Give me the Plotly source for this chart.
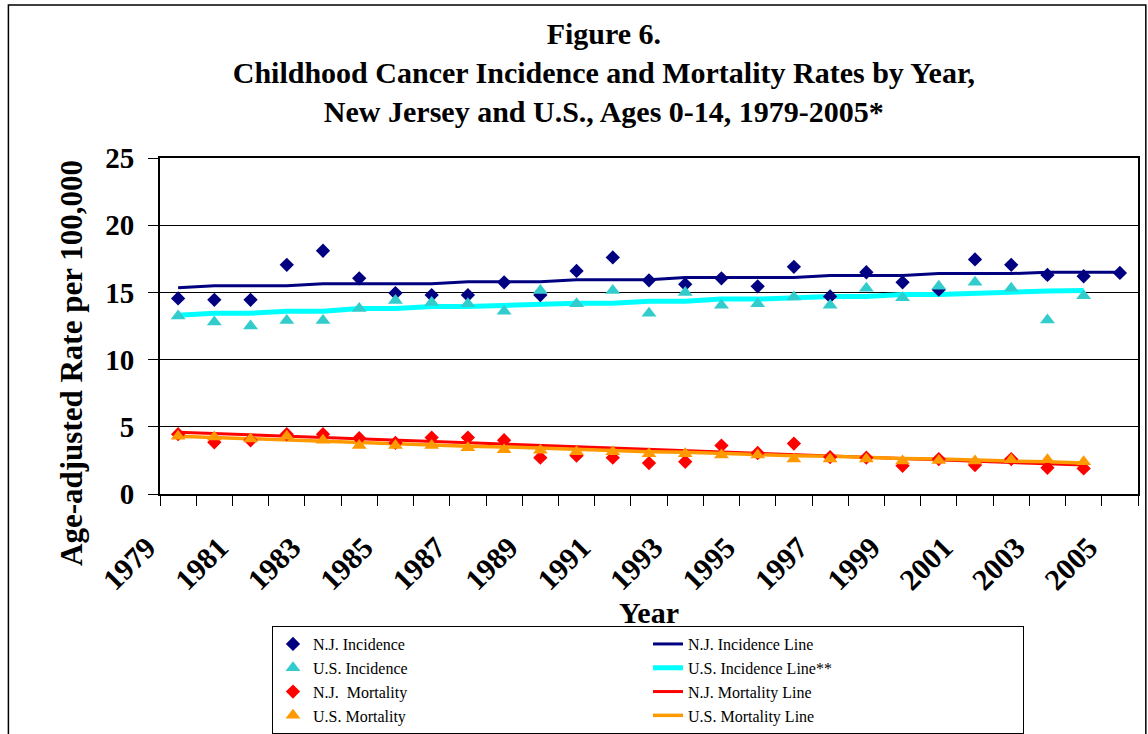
import plotly.graph_objects as go

# years
years_nj = list(range(1979, 2006))
years_us = list(range(1979, 2005))

# N.J. incidence points (1979-2005)
nj_inc = [14.55, 14.45, 14.45, 17.05, 18.1, 16.05, 14.95, 14.8, 14.8, 15.75, 14.8, 16.6, 17.6,
          15.9, 15.6, 16.05, 15.45, 16.9, 14.7, 16.5, 15.75, 15.2, 17.45, 17.05, 16.3, 16.2, 16.45]
# N.J. incidence trend line
nj_inc_line = [15.35, 15.5, 15.5, 15.5, 15.65, 15.65, 15.65, 15.65, 15.8, 15.8, 15.8, 15.95, 15.95,
               15.95, 16.1, 16.1, 16.1, 16.1, 16.25, 16.25, 16.25, 16.4, 16.4, 16.4, 16.5, 16.5, 16.5]

# U.S. incidence points (1979-2004)
us_inc = [13.25, 12.8, 12.5, 12.9, 12.9, 13.8, 14.4, 14.25, 14.15, 13.6, 15.15, 14.15, 15.15,
          13.45, 15.0, 14.05, 14.15, 14.65, 14.05, 15.3, 14.6, 15.45, 15.75, 15.3, 12.95, 14.75]
us_inc_line = [13.3, 13.45, 13.45, 13.6, 13.6, 13.8, 13.8, 13.95, 13.95, 14.05, 14.1, 14.2, 14.2,
               14.35, 14.35, 14.5, 14.5, 14.6, 14.7, 14.7, 14.85, 14.85, 14.95, 15.05, 15.1, 15.15]

# N.J. mortality (1979-2004)
nj_mort = [4.45, 3.85, 4.0, 4.45, 4.45, 4.15, 3.8, 4.2, 4.2, 4.0, 2.7, 2.85, 2.7,
           2.3, 2.4, 3.6, 3.05, 3.75, 2.75, 2.7, 2.1, 2.6, 2.15, 2.6, 1.95, 1.9]
nj_mort_line = [4.6, 4.5, 4.4, 4.3, 4.2, 4.1, 4.0, 3.9, 3.8, 3.7, 3.6, 3.5, 3.4,
                3.3, 3.2, 3.1, 3.0, 2.9, 2.8, 2.7, 2.6, 2.55, 2.45, 2.35, 2.25, 2.15]

# U.S. mortality (1979-2004)
us_mort = [4.3, 4.25, 4.1, 4.3, 4.0, 3.6, 3.6, 3.6, 3.45, 3.3, 3.25, 3.15, 3.15,
           3.0, 3.0, 2.9, 2.9, 2.6, 2.6, 2.6, 2.45, 2.5, 2.45, 2.55, 2.55, 2.4]
us_mort_line = [4.3, 4.2, 4.1, 4.05, 3.95, 3.85, 3.75, 3.65, 3.55, 3.5, 3.4, 3.3, 3.25,
                3.15, 3.1, 3.0, 2.95, 2.85, 2.8, 2.7, 2.65, 2.6, 2.5, 2.45, 2.4, 2.3]

NAVY = '#000080'
TEAL = '#33CCCC'
CYAN = '#00FFFF'
RED = '#FF0000'
ORANGE = '#FF9900'
SERIF = 'Liberation Serif'

fig = go.Figure()

# lines first so the markers sit on top
fig.add_trace(go.Scatter(x=years_nj, y=nj_inc_line, mode='lines', name='N.J. Incidence Line',
                         line=dict(color=NAVY, width=3), legendrank=2))
fig.add_trace(go.Scatter(x=years_us, y=us_inc_line, mode='lines', name='U.S. Incidence Line**',
                         line=dict(color=CYAN, width=5), legendrank=4))
fig.add_trace(go.Scatter(x=years_us, y=nj_mort_line, mode='lines', name='N.J. Mortality Line',
                         line=dict(color=RED, width=3), legendrank=6))
fig.add_trace(go.Scatter(x=years_us, y=us_mort_line, mode='lines', name='U.S. Mortality Line',
                         line=dict(color=ORANGE, width=3.5), legendrank=8))

fig.add_trace(go.Scatter(x=years_nj, y=nj_inc, mode='markers', name='N.J. Incidence',
                         marker=dict(symbol='diamond', size=11, color=NAVY), legendrank=1))
fig.add_trace(go.Scatter(x=years_us, y=us_inc, mode='markers', name='U.S. Incidence',
                         marker=dict(symbol='triangle-up', size=13, color=TEAL), legendrank=3))
fig.add_trace(go.Scatter(x=years_us, y=nj_mort, mode='markers', name='N.J.  Mortality',
                         marker=dict(symbol='diamond', size=11, color=RED), legendrank=5))
fig.add_trace(go.Scatter(x=years_us, y=us_mort, mode='markers', name='U.S. Mortality',
                         marker=dict(symbol='triangle-up', size=13, color=ORANGE), legendrank=7))

# ticks sit on the category boundaries, labels every other year
tick_pos = [y - 0.5 for y in years_nj] + [years_nj[-1] + 0.5]
tick_txt = [str(y) if (y - 1979) % 2 == 0 else '' for y in years_nj] + ['']

fig.update_layout(
    width=1148, height=734,
    paper_bgcolor='white', plot_bgcolor='white',
    margin=dict(l=160, r=10, t=158, b=240, autoexpand=False),
    font=dict(family=SERIF, color='black'),
    title=dict(text='<b>Figure 6.<br>Childhood Cancer Incidence and Mortality Rates by Year,<br>'
                    'New Jersey and U.S., Ages 0-14, 1979-2005*</b>',
               x=0.526, xanchor='center', y=0.9395, yanchor='top',
               font=dict(family=SERIF, size=30, color='black')),
    xaxis=dict(range=[1978.5, 2005.5], tickmode='array', tickvals=tick_pos, ticktext=tick_txt,
               tickangle=-45, ticks='outside', ticklen=10, tickcolor='black',
               ticklabelstandoff=12, ticklabelshift=-13,
               showgrid=False, zeroline=False, showline=True, linecolor='black', linewidth=2,
               mirror=True, automargin=False,
               tickfont=dict(family=SERIF, size=30, color='black', weight='bold'),
               title=dict(text='<b>Year</b>', font=dict(family=SERIF, size=30, color='black'),
                          standoff=0)),
    yaxis=dict(range=[0, 25], dtick=5, ticks='outside', ticklen=10, tickcolor='black',
               ticklabelstandoff=8,
               showgrid=True, gridcolor='black', gridwidth=1, zeroline=False,
               showline=True, linecolor='black', linewidth=2, mirror=True, automargin=False,
               tickfont=dict(family=SERIF, size=29, color='black', weight='bold')),
    legend=dict(orientation='h', x=0.1145, xanchor='left', y=-0.393, yanchor='top',
                entrywidth=330, entrywidthmode='pixels',
                bgcolor='white', bordercolor='black', borderwidth=1,
                font=dict(family=SERIF, size=16, color='black')),
    showlegend=True,
)

# y axis title, centred lower than the plot middle as in the source
fig.add_annotation(text='<b>Age-adjusted Rate per 100,000</b>', textangle=-90,
                   xref='paper', yref='paper', x=-0.09, y=0.39,
                   xanchor='center', yanchor='middle', showarrow=False,
                   font=dict(family=SERIF, size=31, color='black'))

# outer chart border (left, top, right)
fig.add_shape(type='path', xref='paper', yref='paper',
              path='M -0.155,-0.75 L -0.155,1.455 L 1.008,1.455 L 1.008,-0.75',
              line=dict(color='black', width=1.5))

fig.write_html("out.html", config={'displayModeBar': False},
               post_script="document.body.style.margin='0';")
